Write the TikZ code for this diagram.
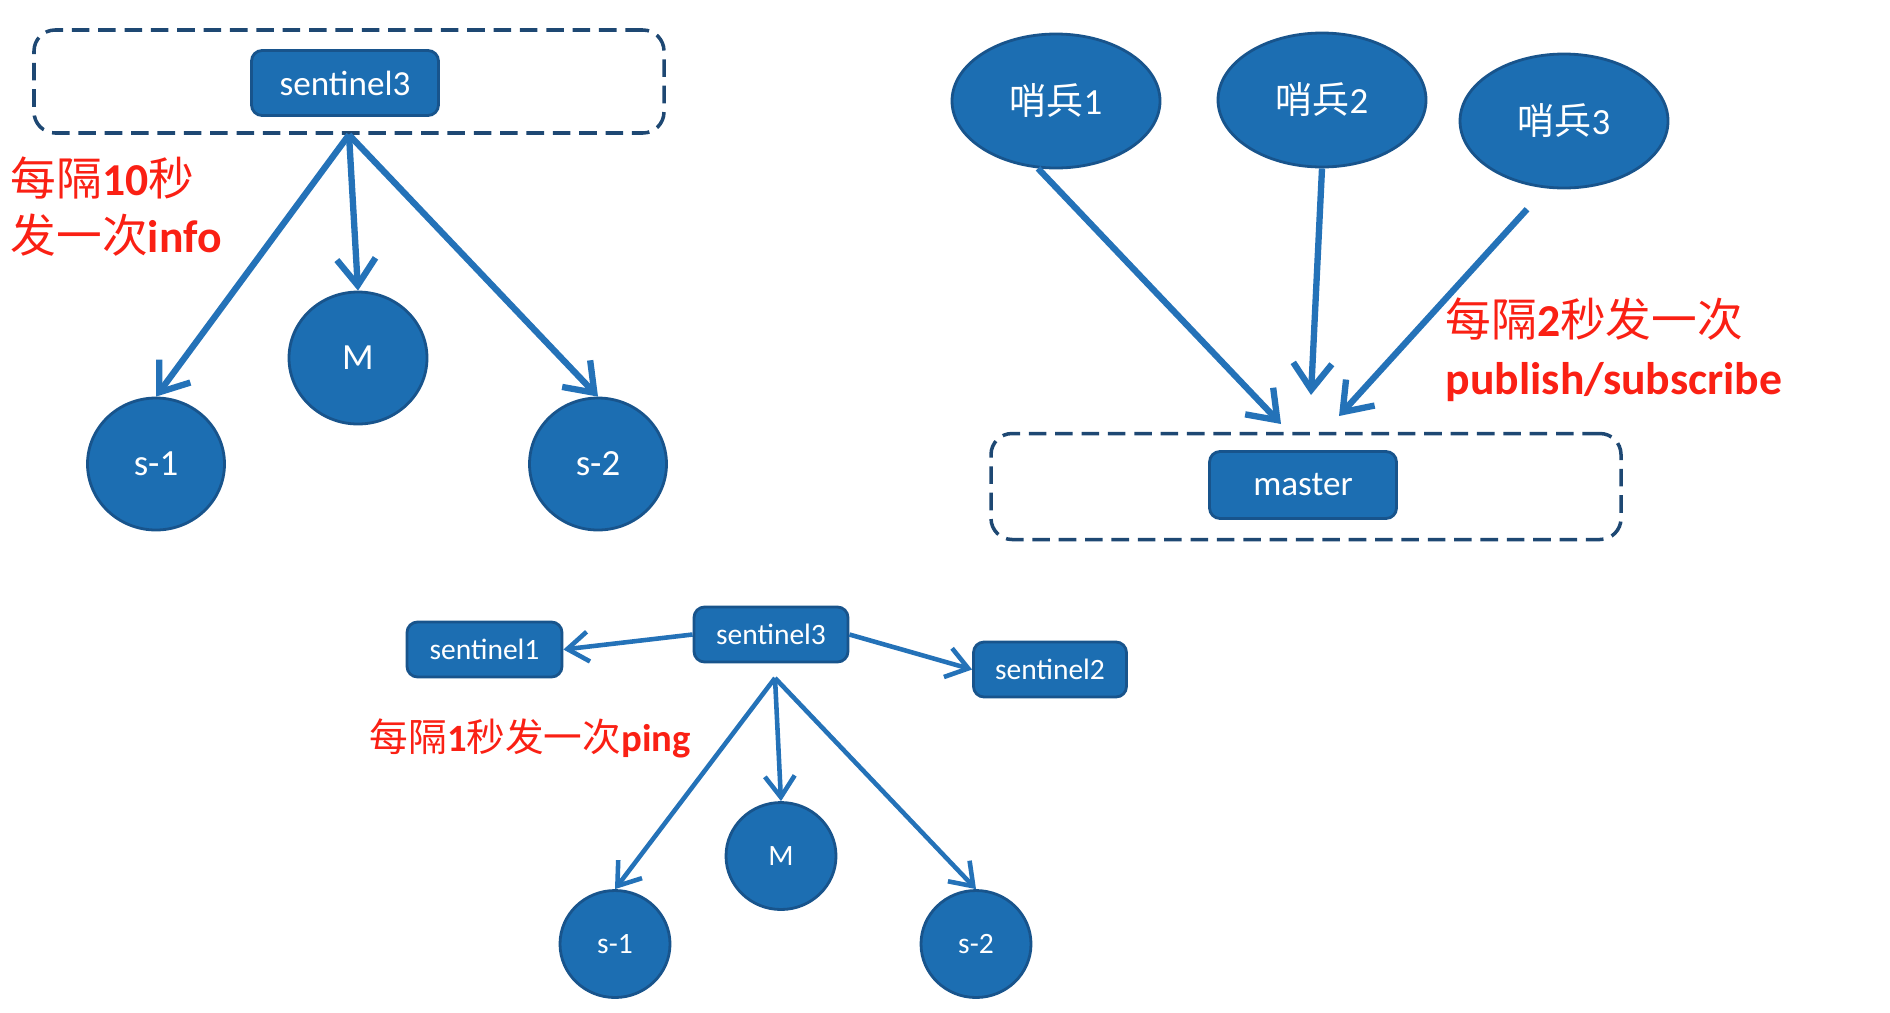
\documentclass[tikz,border=0pt]{standalone}
\usepackage{fontspec}
\setmainfont{Carlito}
\newfontfamily\cjk{Noto Sans CJK SC}
\usepackage{xcolor}
\usepackage{tikz}
\usetikzlibrary{arrows.meta, shapes.geometric}

\definecolor{nodeblue}{RGB}{28,110,178}
\definecolor{nodeline}{RGB}{24,84,140}
\definecolor{boxline}{RGB}{30,72,115}
\definecolor{arrowblue}{RGB}{36,114,184}
\definecolor{notered}{RGB}{250,32,20}
\newcommand{\zh}[1]{{\cjk #1}}

\begin{document}
\begin{tikzpicture}[x=0.1mm, y=-0.1mm,
    grp/.style={draw=boxline, line width=1pt, dash pattern=on 5pt off 2.5pt, rounded corners=6pt},
    blk/.style={draw=nodeline, fill=nodeblue, text=white, line width=0.8pt, rounded corners=3pt, inner sep=0pt},
    bub/.style={ellipse, draw=nodeline, fill=nodeblue, text=white, line width=0.8pt, inner sep=0pt},
    arr/.style={draw=arrowblue, line width=1.8pt, -{Straight Barb[length=7.5pt, width=11pt]}},
    arrs/.style={draw=arrowblue, line width=1.3pt, -{Straight Barb[length=6pt, width=8.5pt]}},
    note/.style={text=notered, anchor=west, align=left, inner sep=0pt}
]
\useasboundingbox (0,0) rectangle (1890,1012);

% info every 10 s
\node[grp, minimum width=63mm, minimum height=10.3mm] (box1) at (349,81.5) {};
\node[blk, minimum width=18.7mm, minimum height=6.5mm, font=\fontsize{10}{12}\selectfont] (tsen3) at (345,83) {sentinel3};
\node[bub, minimum width=13.8mm, minimum height=13.2mm, font=\fontsize{10.5}{12}\selectfont] (tm) at (358,358) {M};
\node[bub, minimum width=13.7mm, minimum height=13.2mm, font=\fontsize{10.5}{12}\selectfont] (ts1) at (156,464) {s-1};
\node[bub, minimum width=13.7mm, minimum height=13.2mm, font=\fontsize{10.5}{12}\selectfont] (ts2) at (598,464) {s-2};
\node[note, font=\fontsize{13}{16.2}\selectfont] (tnote) at (10,206.5) {\zh{每隔}\textbf{10}\zh{秒}\\\zh{发一次}\textbf{info}};

\draw[arr] (box1.south) -- (ts1.north);
\draw[arr] (box1.south) -- (tm.north);
\draw[arr] (box1.south) -- (ts2.north);

% publish/subscribe every 2 s
\node[bub, minimum width=20.8mm, minimum height=13.4mm, font=\fontsize{10.5}{12}\selectfont] (sb1) at (1056,101) {\zh{哨兵}1};
\node[bub, minimum width=20.8mm, minimum height=13.4mm, font=\fontsize{10.5}{12}\selectfont] (sb2) at (1322,100) {\zh{哨兵}2};
\node[bub, minimum width=20.8mm, minimum height=13.4mm, font=\fontsize{10.5}{12}\selectfont] (sb3) at (1564,121) {\zh{哨兵}3};
\node[grp, minimum width=63mm, minimum height=10.6mm] (box2) at (1306,486.5) {};
\node[blk, minimum width=18.7mm, minimum height=6.7mm, font=\fontsize{10}{12}\selectfont] (mst) at (1303,485) {master};
\coordinate (in1) at (1281,424);
\coordinate (in2) at (1311,395);
\coordinate (in3) at (1339,416);
\node[note, font=\fontsize{13}{16.6}\selectfont] (pnote) at (1445,350) {\zh{每隔}\textbf{2}\zh{秒发一次}\\\textbf{publish/subscribe}};

\draw[arr] (sb1.255) -- (in1);
\draw[arr] (sb2.south) -- (in2);
\draw[arr, shorten <=8pt] (sb3.255) -- (in3);

% ping every 1 s
\node[blk, minimum width=15.4mm, minimum height=5.5mm, font=\fontsize{8.4}{10}\selectfont] (bsen3) at (771,634.5) {sentinel3};
\node[blk, minimum width=15.5mm, minimum height=5.5mm, font=\fontsize{8.4}{10}\selectfont] (bsen1) at (484.5,649.5) {sentinel1};
\node[blk, minimum width=15.3mm, minimum height=5.5mm, font=\fontsize{8.4}{10}\selectfont] (bsen2) at (1050,669.5) {sentinel2};
\node[bub, minimum width=11mm, minimum height=10.7mm, font=\fontsize{8.4}{10}\selectfont] (bm) at (781,856) {M};
\node[bub, minimum width=11mm, minimum height=10.7mm, font=\fontsize{8.4}{10}\selectfont] (bs1) at (615,944) {s-1};
\node[bub, minimum width=11mm, minimum height=10.7mm, font=\fontsize{8.4}{10}\selectfont] (bs2) at (976,944) {s-2};
\coordinate (fork) at (775,678);
\node[note, font=\fontsize{11}{13}\selectfont] (bnote) at (369,738) {\zh{每隔}\textbf{1}\zh{秒发一次}\textbf{ping}};

\draw[arrs] (bsen3.west) -- (bsen1.east);
\draw[arrs] (bsen3.east) -- (bsen2.west);
\draw[arrs] (fork) -- (bs1.north);
\draw[arrs] (fork) -- (bm.north);
\draw[arrs] (fork) -- (bs2.north);

\end{tikzpicture}
\end{document}
